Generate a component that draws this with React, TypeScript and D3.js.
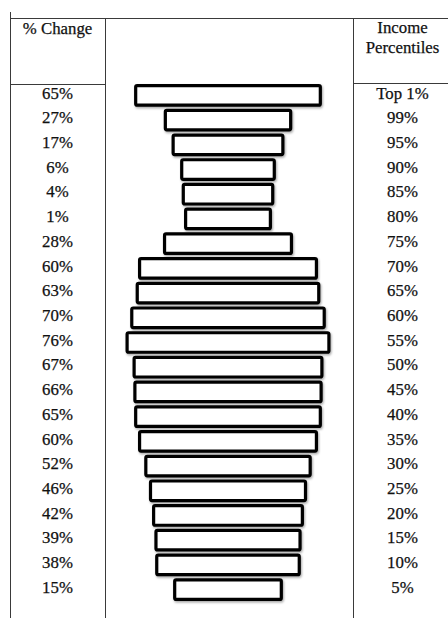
import { scaleBand, scaleLinear } from "d3";

const percentiles = [
  "Top 1%", "99%", "95%", "90%", "85%", "80%", "75%", "70%", "65%", "60%", "55%",
  "50%", "45%", "40%", "35%", "30%", "25%", "20%", "15%", "10%", "5%",
];
const changes = [65, 27, 17, 6, 4, 1, 28, 60, 63, 70, 76, 67, 66, 65, 60, 52, 46, 42, 39, 38, 15];

const W = 448;
const H = 618;
const COL_LEFT = 10;
const COL_MID_L = 105;
const COL_MID_R = 353;
const TOP_LINE = 18.5;
const HEADER_LINE = 84.5;
const CENTER_X = 228;
const STROKE = 3.2;
const FONT = "'Liberation Serif', 'Times New Roman', serif";
const FS = 16.8;
const INK = "#111";
const RULE = "#3a3a3a";

export default function App() {
  const y = scaleBand<string>().domain(percentiles).range([84, 601]).paddingInner(0.08);
  const w = scaleLinear().domain([0, 76]).range([86.4, 205]);
  const leftX = (COL_LEFT + COL_MID_L) / 2;
  const rightX = 402.5;

  return (
    <svg
      width={W}
      height={H}
      viewBox={`0 0 ${W} ${H}`}
      style={{ position: "absolute", left: 0, top: 0, background: "#fff" }}
      fontFamily={FONT}
    >
      <defs>
        <filter id="shadow" x="-10%" y="-30%" width="120%" height="170%">
          <feDropShadow dx={1} dy={1.5} stdDeviation={1.2} floodColor="#000" floodOpacity={0.35} />
        </filter>
      </defs>
      <rect width={W} height={H} fill="#fff" />

      {/* Table rules */}
      <g stroke={RULE} strokeWidth={1} shapeRendering="crispEdges">
        <line x1={COL_LEFT} x2={COL_LEFT} y1={12} y2={H} />
        <line x1={COL_LEFT} x2={W} y1={TOP_LINE} y2={TOP_LINE} />
        <line x1={COL_MID_L} x2={COL_MID_L} y1={TOP_LINE} y2={H} />
        <line x1={COL_MID_R} x2={COL_MID_R} y1={TOP_LINE} y2={H} />
        <line x1={COL_LEFT} x2={COL_MID_L} y1={HEADER_LINE} y2={HEADER_LINE} />
        <line x1={COL_MID_R} x2={W} y1={HEADER_LINE - 1} y2={HEADER_LINE - 1} />
      </g>

      {/* Headers */}
      <g fontSize={FS} fill={INK} stroke={INK} strokeWidth={0.25} textAnchor="middle">
        <text x={leftX} y={33.5}>% Change</text>
        <text x={rightX} y={33}>Income</text>
        <text x={rightX} y={53}>Percentiles</text>
      </g>

      {/* Bars */}
      {percentiles.map((p, i) => {
        const outerW = w(changes[i]);
        const top = y(p) ?? 0;
        return (
          <rect
            key={p}
            x={CENTER_X - outerW / 2 + STROKE / 2}
            y={top + STROKE / 2}
            width={outerW - STROKE}
            height={y.bandwidth() - STROKE}
            rx={1.5}
            fill="#fff"
            stroke="#000"
            strokeWidth={STROKE}
            filter="url(#shadow)"
          />
        );
      })}

      {/* Row labels */}
      <g fontSize={FS} fill={INK} stroke={INK} strokeWidth={0.25} textAnchor="middle">
        {percentiles.map((p, i) => {
          const cy = (y(p) ?? 0) + y.bandwidth() / 2;
          return (
            <g key={p}>
              <text x={leftX} y={cy - 2.5} dy="0.34em">{`${changes[i]}%`}</text>
              <text x={rightX} y={cy - 2.5} dy="0.34em">{p}</text>
            </g>
          );
        })}
      </g>
    </svg>
  );
}
